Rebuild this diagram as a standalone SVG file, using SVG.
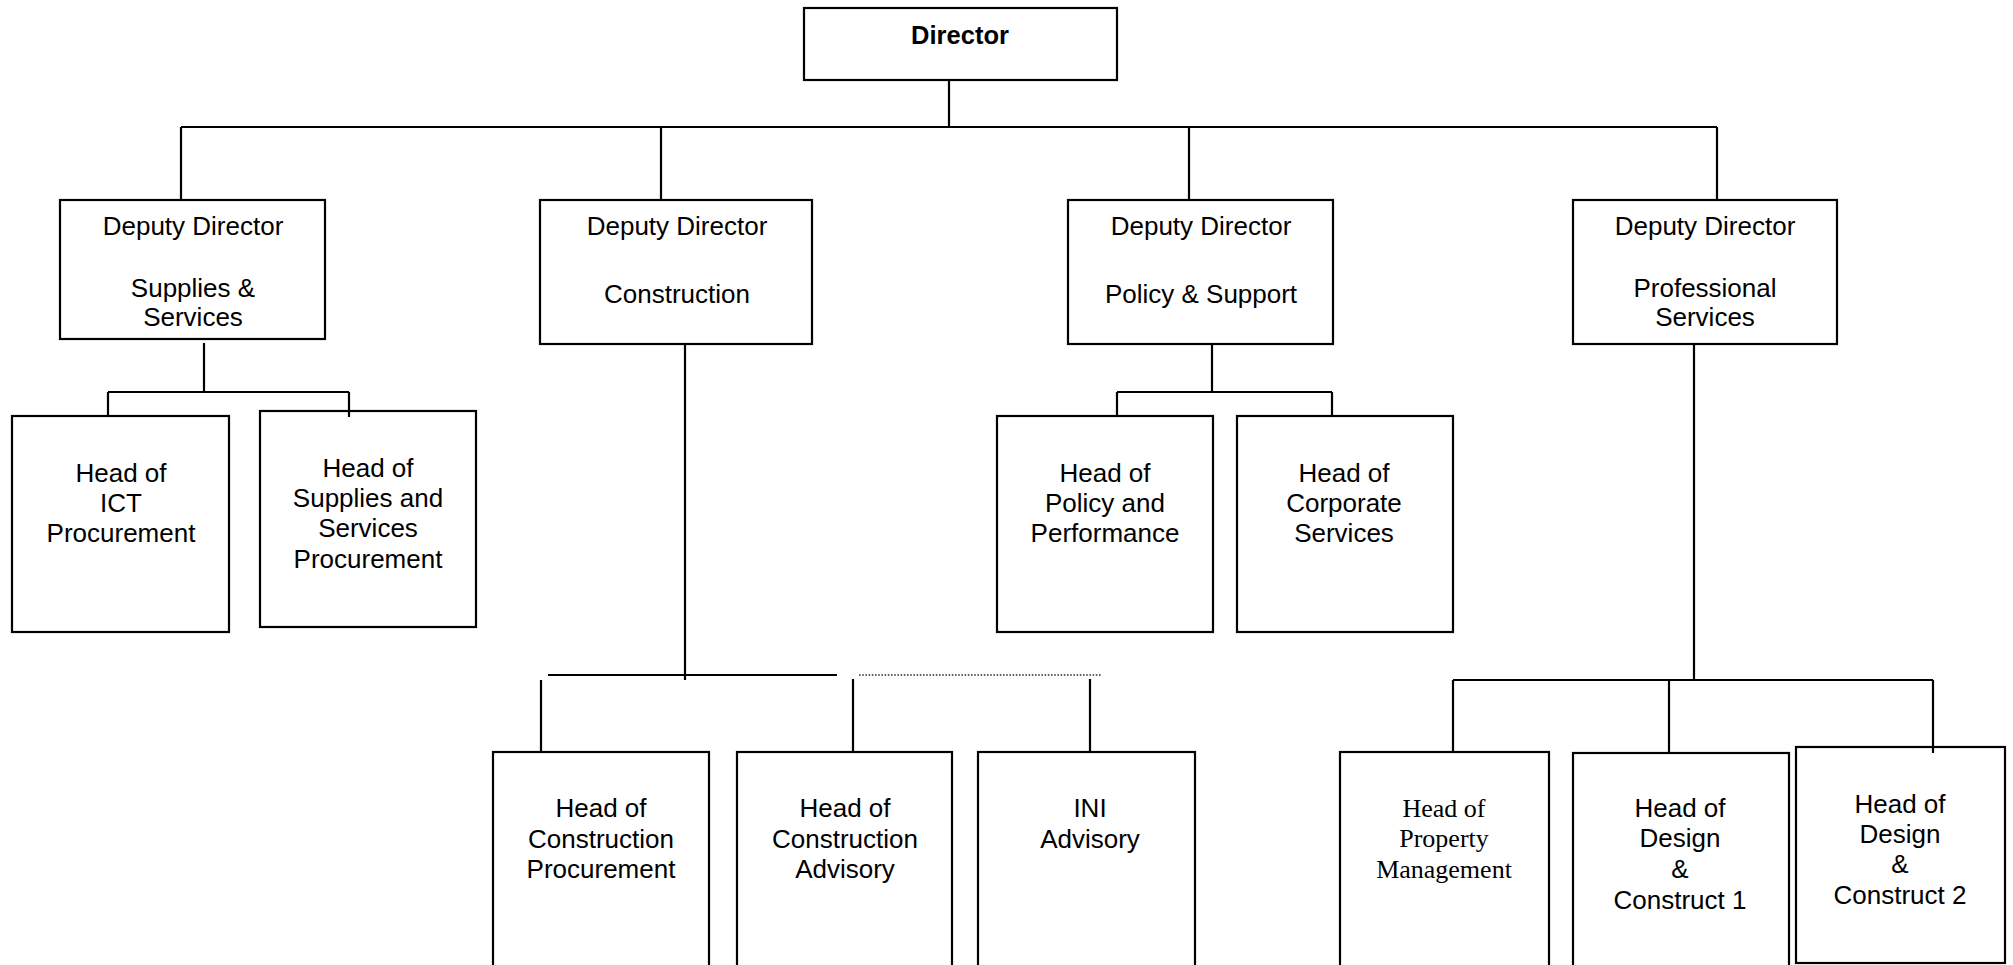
<svg xmlns="http://www.w3.org/2000/svg" width="2013" height="965" viewBox="0 0 2013 965">
<style>
.box{fill:none;stroke:#000;stroke-width:2.2}
.ln{fill:none;stroke:#000;stroke-width:2.2}
.dot{fill:none;stroke:#333;stroke-width:1.6;stroke-dasharray:1.6 1.6}
text{font-family:"Liberation Sans",Arial,sans-serif;font-size:26px;fill:#000;text-anchor:middle}
.b{font-weight:bold;font-size:25.5px}
.serif{font-family:"Liberation Serif","Times New Roman",serif}
</style>
<rect width="2013" height="965" fill="#fff"/>
<g id="connectors">
<path class="ln" d="M949 80V127M181 127H1717M181 127V200M661 127V200M1189 127V200M1717 127V200"/>
<path class="ln" d="M204 343V392M108 392H349M108 392V416M349 392V417"/>
<path class="ln" d="M1212 344V392M1117 392H1332M1117 392V416M1332 392V416"/>
<path class="ln" d="M685 344V680M548 675H837M541 680V752M853 679V752M1090 679V752"/>
<path class="dot" d="M859 675H1101"/>
<path class="ln" d="M1694 344V680M1453 680H1933M1453 680V752M1669 680V752M1933 680V753"/>
</g>
<g id="director"><rect class="box" x="804" y="8" width="313" height="72"/><text class="b" x="960" y="44">Director</text></g>
<g id="dd-supplies"><rect class="box" x="60" y="200" width="265" height="139"/><text x="193" y="235">Deputy Director</text><text x="193" y="297">Supplies &amp;</text><text x="193" y="326">Services</text></g>
<g id="dd-construction"><rect class="box" x="540" y="200" width="272" height="144"/><text x="677" y="235">Deputy Director</text><text x="677" y="303">Construction</text></g>
<g id="dd-policy"><rect class="box" x="1068" y="200" width="265" height="144"/><text x="1201" y="235">Deputy Director</text><text x="1201" y="303">Policy &amp; Support</text></g>
<g id="dd-professional"><rect class="box" x="1573" y="200" width="264" height="144"/><text x="1705" y="235">Deputy Director</text><text x="1705" y="297">Professional</text><text x="1705" y="326">Services</text></g>
<g id="ict"><rect class="box" x="12" y="416" width="217" height="216"/><text x="121" y="482">Head of</text><text x="121" y="512">ICT</text><text x="121" y="542">Procurement</text></g>
<g id="ssp"><rect class="box" x="260" y="411" width="216" height="216"/><text x="368" y="477">Head of</text><text x="368" y="507">Supplies and</text><text x="368" y="537">Services</text><text x="368" y="568">Procurement</text></g>
<g id="pp"><rect class="box" x="997" y="416" width="216" height="216"/><text x="1105" y="482">Head of</text><text x="1105" y="512">Policy and</text><text x="1105" y="542">Performance</text></g>
<g id="cs"><rect class="box" x="1237" y="416" width="216" height="216"/><text x="1344" y="482">Head of</text><text x="1344" y="512">Corporate</text><text x="1344" y="542">Services</text></g>
<g id="cp"><rect class="box" x="493" y="752" width="216" height="230"/><text x="601" y="817">Head of</text><text x="601" y="848">Construction</text><text x="601" y="878">Procurement</text></g>
<g id="ca"><rect class="box" x="737" y="752" width="215" height="230"/><text x="845" y="817">Head of</text><text x="845" y="848">Construction</text><text x="845" y="878">Advisory</text></g>
<g id="ini"><rect class="box" x="978" y="752" width="217" height="230"/><text x="1090" y="817">INI</text><text x="1090" y="848">Advisory</text></g>
<g id="pm"><rect class="box" x="1340" y="752" width="209" height="230"/><text class="serif" x="1444" y="817">Head of</text><text class="serif" x="1444" y="847">Property</text><text class="serif" x="1444" y="878">Management</text></g>
<g id="dc1"><rect class="box" x="1573" y="753" width="216" height="230"/><text x="1680" y="817">Head of</text><text x="1680" y="847">Design</text><text x="1680" y="878">&amp;</text><text x="1680" y="909">Construct 1</text></g>
<g id="dc2"><rect class="box" x="1796" y="747" width="209" height="216"/><text x="1900" y="813">Head of</text><text x="1900" y="843">Design</text><text x="1900" y="873">&amp;</text><text x="1900" y="904">Construct 2</text></g>
</svg>
